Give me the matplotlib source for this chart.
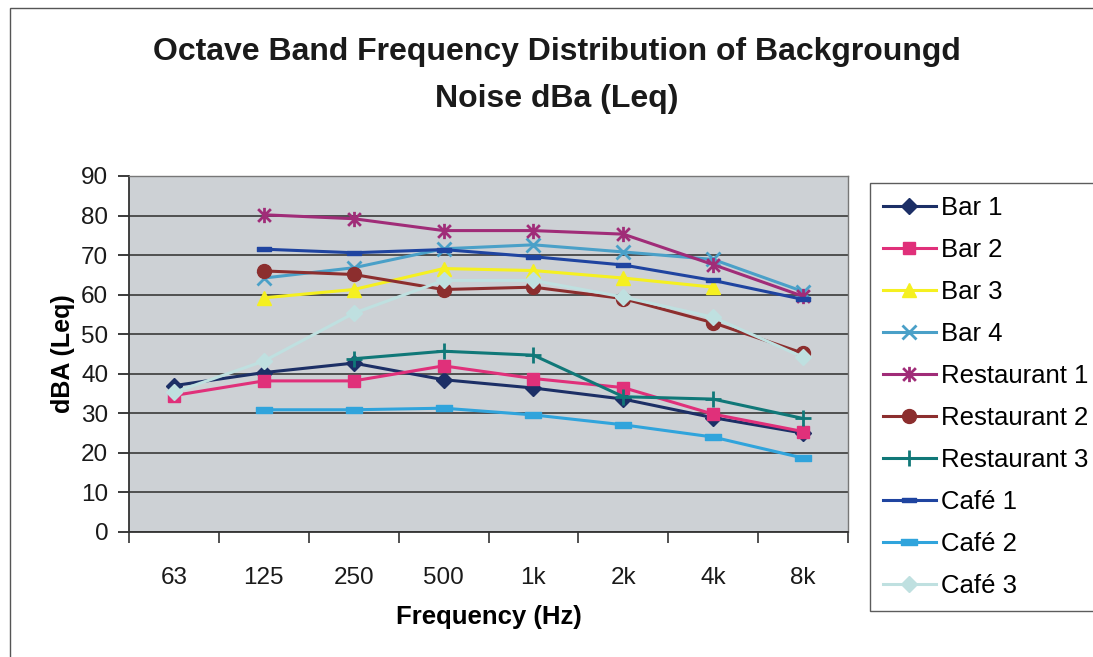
import numpy as np
import matplotlib
matplotlib.use("Agg")
import matplotlib.pyplot as plt
from matplotlib.path import Path
from matplotlib.patches import Rectangle

plt.rcParams['font.family'] = ['Liberation Sans', 'DejaVu Sans']

categories = ['63', '125', '250', '500', '1k', '2k', '4k', '8k']
nan = np.nan
bar1 = [37.0, 40.3, 42.7, 38.5, 36.4, 33.6, 28.9, 25.0]
bar2 = [34.5, 38.2, 38.2, 42.0, 38.8, 36.5, 29.8, 25.4]
bar3 = [nan, 59.2, 61.3, 66.6, 66.1, 64.2, 61.9, nan]
bar4 = [nan, 64.2, 66.8, 71.6, 72.6, 70.8, 68.9, 60.8]
rest1 = [nan, 80.2, 79.2, 76.2, 76.2, 75.3, 67.6, 59.6]
rest2 = [nan, 66.0, 65.1, 61.3, 61.9, 59.0, 52.9, 45.2]
rest3 = [nan, nan, 43.8, 45.7, 44.7, 34.2, 33.6, 28.7]
cafe1 = [nan, 71.5, 70.6, 71.4, 69.6, 67.5, 63.6, 58.8]
cafe2 = [nan, 30.9, 30.9, 31.3, 29.6, 27.1, 24.0, 18.7]
cafe3 = [35.3, 43.2, 55.3, 63.6, 63.6, 59.4, 54.3, 44.2]

series_names = ['Bar 1', 'Bar 2', 'Bar 3', 'Bar 4', 'Restaurant 1', 'Restaurant 2',
                'Restaurant 3', 'Café 1', 'Café 2', 'Café 3']
series_values = [bar1, bar2, bar3, bar4, rest1, rest2, rest3, cafe1, cafe2, cafe3]

# marker shapes
short_dash = Path([(-1, -0.35), (1, -0.35), (1, 0.35), (-1, 0.35), (-1, -0.35)],
                  [Path.MOVETO, Path.LINETO, Path.LINETO, Path.LINETO, Path.CLOSEPOLY])
asterisk = Path([(-1, -1), (1, 1), (-1, 1), (1, -1), (0, -1.2), (0, 1.2)],
                [Path.MOVETO, Path.LINETO, Path.MOVETO, Path.LINETO, Path.MOVETO, Path.LINETO])

styles = [
    dict(color='#1c2f66', marker='D', ms=8, mfc='#1c2f66', mec='#1c2f66'),
    dict(color='#e0307a', marker='s', ms=9, mfc='#e0307a', mec='#e0307a'),
    dict(color='#f5f020', marker='^', ms=10, mfc='#f5f020', mec='#f5f020'),
    dict(color='#4aa0c8', marker='x', ms=10, mfc='none', mec='#4aa0c8', mew=2),
    dict(color='#a02c78', marker=asterisk, ms=11, mfc='none', mec='#a02c78', mew=2),
    dict(color='#8c2e2e', marker='o', ms=10, mfc='#8c2e2e', mec='#8c2e2e'),
    dict(color='#107878', marker='+', ms=12, mfc='none', mec='#107878', mew=2),
    dict(color='#1f44a0', marker=short_dash, ms=10, mfc='#1f44a0', mec='#1f44a0'),
    dict(color='#30a4dc', marker=short_dash, ms=12, mfc='#30a4dc', mec='#30a4dc'),
    dict(color='#bfe0e0', marker='D', ms=8, mfc='#bfe0e0', mec='#bfe0e0'),
]

fig = plt.figure(figsize=(10.93, 6.57), dpi=100)
W, H = 1093, 657
ax = fig.add_axes([129 / W, 1 - 532 / H, (848 - 129) / W, (532 - 176) / H])
ax.set_facecolor('#cdd1d5')

x = np.arange(len(categories))
for name, vals, st in zip(series_names, series_values, styles):
    ax.plot(x, vals, label=name, lw=2.2, linestyle='-', **st)

ax.set_xlim(-0.5, len(categories) - 0.5)
ax.set_ylim(0, 90)
ax.set_yticks(np.arange(0, 91, 10))
ax.yaxis.grid(True, color='#3a3a3a', lw=1.2)
ax.set_axisbelow(True)
ax.set_xticks(x)
ax.set_xticklabels(categories)
ax.set_xticks(np.arange(-0.5, len(categories)), minor=True)
ax.tick_params(axis='x', which='major', length=0, labelsize=17.5, pad=25, colors='#1a1a1a')
ax.tick_params(axis='x', which='minor', length=8, width=1.2, direction='out', color='#333333')
ax.tick_params(axis='y', length=8, width=1.2, labelsize=17.5, pad=7, colors='#1a1a1a')
for side in ['top', 'right']:
    ax.spines[side].set_color('#777777')
    ax.spines[side].set_linewidth(1.0)
for side in ['left', 'bottom']:
    ax.spines[side].set_color('#333333')
    ax.spines[side].set_linewidth(1.3)

ax.set_xlabel('Frequency (Hz)', fontsize=18.5, fontweight='bold', labelpad=12)
ax.set_ylabel('dBA (Leq)', fontsize=18, fontweight='bold', labelpad=4)

fig.text(557 / W, 1 - 52 / H, 'Octave Band Frequency Distribution of Backgroungd',
         ha='center', va='center', fontsize=23, fontweight='bold', color='#1a1a1a')
fig.text(557 / W, 1 - 99 / H, 'Noise dBa (Leq)',
         ha='center', va='center', fontsize=23, fontweight='bold', color='#1a1a1a')

leg = fig.legend(loc='upper left', bbox_to_anchor=(870 / W, 1 - 183 / H),
                 fontsize=18.5, frameon=True, fancybox=False, handlelength=2.05,
                 handletextpad=0.2, labelspacing=0.70, borderpad=0.5,
                 borderaxespad=0)
leg.get_frame().set_edgecolor('#333333')
leg.get_frame().set_linewidth(1.0)

fig.patches.append(Rectangle((10 / W, -0.05), 1.2, 1 - 8 / H + 0.05,
                             transform=fig.transFigure, fill=False,
                             edgecolor='#555555', lw=1.0))

fig.savefig('out.png', dpi=100)
